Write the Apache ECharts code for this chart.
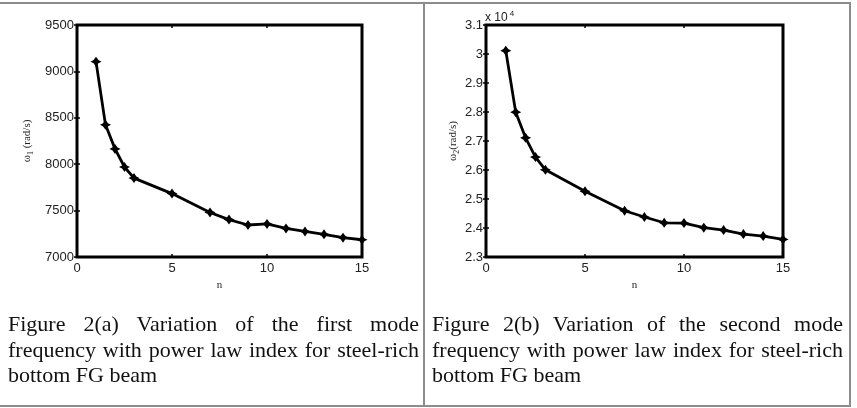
<!DOCTYPE html>
<html>
<head>
<meta charset="utf-8">
<script src="https://cdn.jsdelivr.net/npm/echarts@6/dist/echarts.min.js"></script>
<style>
  html, body { margin: 0; padding: 0; background: #fff; }
  #wrap { position: relative; width: 857px; height: 408px; overflow: hidden; }
  #chart { position: absolute; left: 0; top: 0; width: 857px; height: 408px; }
  .rule { position: absolute; background: #8c8c8c; }
  .caption {
    position: absolute; top: 311px; width: 411px;
    font-family: "Liberation Serif", "Times New Roman", serif;
    font-size: 22px; line-height: 25.5px; color: #111;
    text-align: justify;
  }
</style>
</head>
<body>
<div id="wrap">
  <div id="chart"></div>
  <div class="rule" style="left:0;top:2px;width:851px;height:2px"></div>
  <div class="rule" style="left:849px;top:2px;width:2px;height:405px"></div>
  <div class="rule" style="left:0;top:405px;width:851px;height:2px"></div>
  <div class="rule" style="left:423px;top:2px;width:2px;height:405px"></div>
  <div class="caption" style="left:8px">Figure 2(a) Variation of the first mode frequency with power law index for steel-rich bottom FG beam</div>
  <div class="caption" style="left:432px">Figure 2(b) Variation of the second mode frequency with power law index for steel-rich bottom FG beam</div>
</div>
<script>
  // power law index n
  var nValues = [1, 1.5, 2, 2.5, 3, 5, 7, 8, 9, 10, 11, 12, 13, 14, 15];
  // first mode frequency (rad/s)
  var omega1 = [9105, 8424, 8165, 7970, 7850, 7683, 7480, 7403, 7345, 7356, 7308, 7275, 7244, 7208, 7186];
  // second mode frequency (rad/s)
  var omega2 = [30115, 27995, 27110, 26445, 26005, 25265, 24595, 24380, 24180, 24170, 24010, 23930, 23790, 23720, 23605];

  var chart = echarts.init(document.getElementById('chart'));

  var star = 'path://M0,-5L2.2,-1.6L5,0L2.2,1.6L0,5L-2.2,1.6L-5,0L-2.2,-1.6Z';
  var tickFont = { fontFamily: 'Liberation Sans, Arial, sans-serif', fontSize: 13, color: '#222' };
  var nameFont = { fontFamily: 'Liberation Serif, Times New Roman, serif', fontSize: 11, color: '#222' };

  function pairs(ys) {
    var out = [];
    for (var i = 0; i < nValues.length; i++) out.push([nValues[i], ys[i]]);
    return out;
  }

  function xAxes(idx) {
    return [
      {
        gridIndex: idx, type: 'value', min: 0, max: 15, interval: 5,
        name: 'n', nameLocation: 'middle', nameGap: 20, nameTextStyle: nameFont,
        axisLine: { show: false },
        axisTick: { inside: true, length: 3, lineStyle: { color: '#000', width: 1.5 } },
        axisLabel: Object.assign({ margin: 5 }, tickFont),
        splitLine: { show: false }
      },
      {
        gridIndex: idx, type: 'value', position: 'top', min: 0, max: 15, interval: 5,
        axisLine: { show: false },
        axisTick: { inside: true, length: 3, lineStyle: { color: '#000', width: 1.5 } },
        axisLabel: { show: false }, splitLine: { show: false }
      }
    ];
  }

  function yAxes(idx, min, max, step, label, fmt, gap) {
    return [
      {
        gridIndex: idx, type: 'value', min: min, max: max, interval: step,
        name: label, nameLocation: 'middle', nameGap: gap, nameRotate: 90,
        nameTextStyle: {
          rich: {
            w: nameFont,
            s: Object.assign({}, nameFont, { fontSize: 8, verticalAlign: 'bottom', padding: [7, 0, 0, 0] })
          }
        },
        axisLine: { show: false },
        axisTick: { inside: true, length: 3, lineStyle: { color: '#000', width: 1.5 } },
        axisLabel: Object.assign({ margin: 3, formatter: fmt }, tickFont),
        splitLine: { show: false }
      },
      {
        gridIndex: idx, type: 'value', position: 'right', min: min, max: max, interval: step,
        axisLine: { show: false },
        axisTick: { inside: true, length: 3, lineStyle: { color: '#000', width: 1.5 } },
        axisLabel: { show: false }, splitLine: { show: false }
      }
    ];
  }

  function lineSeries(idx, ys) {
    return {
      type: 'line', xAxisIndex: idx * 2, yAxisIndex: idx * 2,
      data: pairs(ys), symbol: star, symbolSize: [11, 10],
      lineStyle: { color: '#000', width: 2.8 },
      itemStyle: { color: '#000' },
      animation: false
    };
  }

  var option = {
    animation: false,
    title: {
      left: 485, top: 10, padding: 0,
      text: '{a|x 10}{b|4}',
      textStyle: {
        rich: {
          a: { fontFamily: 'Liberation Sans, Arial, sans-serif', fontSize: 12, color: '#222', fontWeight: 'normal' },
          b: { fontFamily: 'Liberation Sans, Arial, sans-serif', fontSize: 8, color: '#222', fontWeight: 'normal', verticalAlign: 'top', padding: [0, 0, 8, 2] }
        }
      }
    },
    grid: [
      { left: 77, width: 285, top: 25, height: 232, show: true, borderColor: '#000', borderWidth: 3, backgroundColor: 'transparent' },
      { left: 486, width: 297, top: 25, height: 232, show: true, borderColor: '#000', borderWidth: 3, backgroundColor: 'transparent' }
    ],
    xAxis: xAxes(0).concat(xAxes(1)),
    yAxis: yAxes(0, 7000, 9500, 500, '{w|ω}{s|1}{w| (rad/s)}', function (v) { return v; }, 42)
      .concat(yAxes(1, 23000, 31000, 1000, '{w|ω}{s|2}{w|(rad/s)}', function (v) { return +(v / 10000).toFixed(1); }, 25)),
    series: [lineSeries(0, omega1), lineSeries(1, omega2)]
  };

  chart.setOption(option);
  window.onresize = chart.resize;
</script>
</body>
</html>
